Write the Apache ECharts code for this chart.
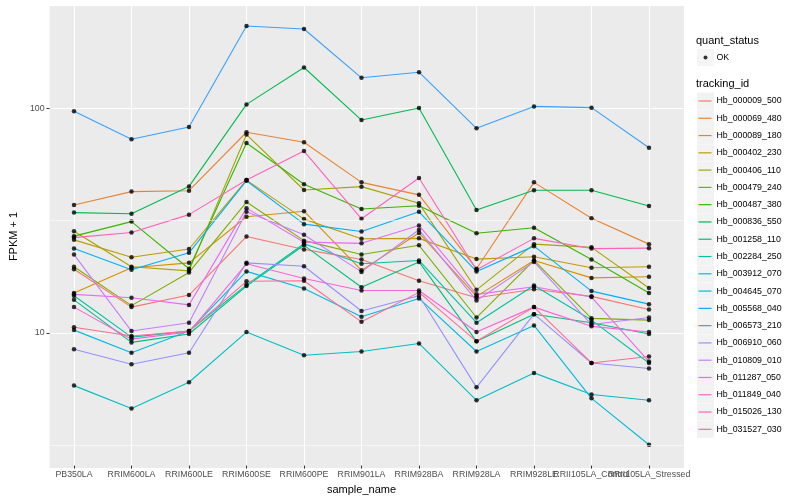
<!DOCTYPE html>
<html><head><meta charset="utf-8">
<script src="https://cdn.jsdelivr.net/npm/echarts@6/dist/echarts.min.js"></script>
<style>html,body{margin:0;padding:0;background:#fff}#c{width:800px;height:500px}</style>
</head><body><div id="c"></div>
<script>
const categories = ['PB350LA','RRIM600LA','RRIM600LE','RRIM600SE','RRIM600PE','RRIM901LA','RRIM928BA','RRIM928LA','RRIM928LE','RRII105LA_Control','RRII105LA_Stressed'];
const trackingIds = ['Hb_000009_500','Hb_000069_480','Hb_000089_180','Hb_000402_230','Hb_000406_110','Hb_000479_240','Hb_000487_380','Hb_000836_550','Hb_001258_110','Hb_002284_250','Hb_003912_070','Hb_004645_070','Hb_005568_040','Hb_006573_210','Hb_006910_060','Hb_010809_010','Hb_011287_050','Hb_011849_040','Hb_015026_130','Hb_031527_030'];
const colors = ['#F8766D','#EA8331','#D89000','#C09B00','#A3A500','#7CAE00','#39B600','#00BB4E','#00BF7D','#00C1A3','#00BFC4','#00BAE0','#00B0F6','#35A2FF','#9590FF','#C77CFF','#E76BF3','#FA62DB','#FF62BC','#FF6C91'];

// FPKM + 1 per sample (same order as categories)
const Hb_000009_500 = [18.9, 12.8, 14.5, 26.5, 23.2, 20.9, 16.8, 14.1, 15.4, 14.3, 12.5];
const Hb_000069_480 = [36.7, 42.1, 42.5, 77.6, 70.0, 46.3, 40.7, 19.0, 46.3, 32.0, 24.5];
const Hb_000089_180 = [14.8, 19.2, 20.2, 32.5, 34.4, 18.7, 27.5, 14.3, 20.7, 17.3, 17.5];
const Hb_000402_230 = [25.6, 21.4, 23.3, 47.4, 31.7, 25.9, 26.0, 21.0, 21.5, 19.2, 19.4];
const Hb_000406_110 = [28.0, 19.4, 18.6, 75.8, 42.8, 44.3, 37.3, 15.3, 24.5, 23.7, 15.6];
const Hb_000479_240 = [19.4, 13.0, 18.3, 37.8, 25.4, 22.0, 24.2, 11.5, 20.7, 11.4, 11.2];
const Hb_000487_380 = [26.6, 30.9, 19.0, 69.5, 45.4, 35.2, 36.4, 27.4, 29.0, 20.9, 14.8];
const Hb_000836_550 = [33.9, 33.5, 44.4, 103.4, 151.2, 88.0, 99.6, 34.8, 42.7, 42.7, 36.3];
const Hb_001258_110 = [13.8, 8.9, 9.7, 15.9, 24.2, 15.7, 20.4, 9.0, 11.9, 10.9, 9.7];
const Hb_002284_250 = [14.4, 9.4, 10.0, 16.1, 24.6, 20.0, 20.7, 10.9, 16.0, 11.2, 7.2];
const Hb_003912_070 = [5.7, 4.5, 5.9, 9.9, 7.8, 8.1, 8.8, 4.9, 6.5, 5.2, 4.9];
const Hb_004645_070 = [10.1, 8.0, 10.0, 18.5, 15.5, 11.6, 14.0, 8.1, 10.6, 5.0, 3.1];
const Hb_005568_040 = [23.4, 18.8, 22.4, 47.1, 30.1, 27.9, 34.2, 18.5, 24.0, 15.1, 13.2];
const Hb_006573_210 = [96.3, 72.2, 81.9, 231.9, 224.9, 136.0, 144.1, 80.8, 101.3, 100.0, 66.1];
const Hb_006910_060 = [8.3, 7.1, 8.0, 20.2, 19.5, 12.3, 14.4, 5.6, 11.9, 7.2, 6.8];
const Hb_010809_010 = [22.0, 10.0, 10.9, 34.2, 27.0, 18.4, 28.4, 13.7, 20.4, 10.7, 11.5];
const Hb_011287_050 = [14.6, 14.1, 13.1, 35.5, 25.0, 24.7, 29.7, 14.6, 15.8, 14.2, 7.3];
const Hb_011849_040 = [12.8, 9.2, 9.9, 20.0, 17.2, 15.2, 15.2, 9.9, 12.8, 10.5, 9.9];
const Hb_015026_130 = [26.2, 27.6, 33.2, 47.4, 63.9, 31.8, 48.4, 18.8, 26.0, 23.4, 23.5];
const Hb_031527_030 = [10.4, 9.5, 10.0, 16.7, 16.8, 11.0, 14.9, 9.0, 12.8, 7.2, 7.7];

const seriesValues = [Hb_000009_500, Hb_000069_480, Hb_000089_180, Hb_000402_230, Hb_000406_110, Hb_000479_240, Hb_000487_380, Hb_000836_550, Hb_001258_110, Hb_002284_250, Hb_003912_070, Hb_004645_070, Hb_005568_040, Hb_006573_210, Hb_006910_060, Hb_010809_010, Hb_011287_050, Hb_011849_040, Hb_015026_130, Hb_031527_030];

const yTicks = [10, 100];
const minorBreaks = [3.1623, 31.623];
const yMin = 2.5, yMax = 288;

const FONT = '"Liberation Sans", Arial, Helvetica, sans-serif';

const lineSeries = trackingIds.map((id, i) => ({
  name: id, type: 'line', xAxisIndex: 0, yAxisIndex: 0,
  data: seriesValues[i], showSymbol: false, symbol: 'none',
  itemStyle: { color: colors[i] },
  lineStyle: { width: 1.1, color: colors[i] },
  emphasis: { disabled: true }, silent: true, z: 2
}));

const pts = [];
seriesValues.forEach(vals => vals.forEach((v, j) => pts.push([categories[j], v])));
const pointSeries = {
  name: 'OK', type: 'scatter', xAxisIndex: 0, yAxisIndex: 0, data: pts,
  symbol: 'circle', symbolSize: 4.5, itemStyle: { color: '#000' },
  emphasis: { disabled: true }, silent: true, z: 3
};
const gridSeries = {
  type: 'scatter', xAxisIndex: 1, yAxisIndex: 1, data: [[0.5, 10]], symbolSize: 0,
  silent: true, z: 1,
  markLine: { silent: true, symbol: 'none', animation: false, label: { show: false },
    emphasis: { disabled: true },
    lineStyle: { color: '#ffffff', width: 0.55, type: 'solid' },
    data: minorBreaks.map(v => ({ yAxis: v })) }
};

const legendText = { color: '#000', fontSize: 8.8, fontFamily: FONT };
const boxLegend = (data, top) => ({
  data, orient: 'vertical', left: 697, top, padding: 0, itemWidth: 17, itemHeight: 17, itemGap: 0.28,
  icon: 'rect', itemStyle: { color: '#F2F2F2', borderWidth: 0 },
  textStyle: { color: 'rgba(0,0,0,0)', fontSize: 8.8, fontFamily: FONT }, selectedMode: false, z: 1
});
const keyLegend = (data, top, icon) => ({
  data, orient: 'vertical', left: 694.5, top, padding: 0, itemWidth: 17, itemHeight: 17, itemGap: 0.28,
  icon, itemStyle: { borderWidth: 0 }, textStyle: legendText, selectedMode: false, z: 2
});

const chart = echarts.init(document.getElementById('c'));
chart.setOption({
  animation: false,
  backgroundColor: '#ffffff',
  title: [
    { text: 'quant_status', left: 696, top: 35.5, padding: 0, textStyle: { fontSize: 11, fontWeight: 'normal', color: '#000', fontFamily: FONT, lineHeight: 11 } },
    { text: 'tracking_id', left: 696, top: 78.8, padding: 0, textStyle: { fontSize: 11, fontWeight: 'normal', color: '#000', fontFamily: FONT, lineHeight: 11 } }
  ],
  legend: [
    boxLegend(['OK'], 49),
    keyLegend(['OK'], 49, 'path://M0,0M17,17M13,8.5A2,2,0,1,1,9,8.5A2,2,0,1,1,13,8.5Z'),
    boxLegend(trackingIds, 92.5),
    keyLegend(trackingIds, 92.5, 'path://M0,0M17,17M4,7.9H17V9.1H4Z')
  ],
  grid: [
    { left: 74, right: 151, top: 5, bottom: 32, show: false },
    { left: 40, right: 116, top: 5, bottom: 32, show: true, backgroundColor: '#EBEBEB', borderWidth: 0 }
  ],
  xAxis: [
    { gridIndex: 0, type: 'category', data: categories, boundaryGap: false,
      axisLine: { show: false },
      axisTick: { show: true, length: 3, lineStyle: { color: '#333333', width: 1 } },
      axisLabel: { interval: 0, color: '#4D4D4D', fontSize: 8.8, margin: 4.5, fontFamily: FONT, hideOverlap: false },
      splitLine: { show: true, lineStyle: { color: '#ffffff', width: 1.1 } },
      name: 'sample_name', nameLocation: 'middle', nameGap: 15,
      nameTextStyle: { fontSize: 11, color: '#000', fontFamily: FONT } },
    { gridIndex: 1, type: 'value', min: 0, max: 1, show: false }
  ],
  yAxis: [
    { gridIndex: 0, type: 'log', logBase: 10, min: yMin, max: yMax, show: false },
    { gridIndex: 1, type: 'log', logBase: 10, min: yMin, max: yMax,
      axisLine: { show: false },
      axisTick: { show: true, length: 3, lineStyle: { color: '#333333' } },
      axisLabel: { color: '#4D4D4D', fontSize: 8.8, margin: 5, fontFamily: FONT, showMinLabel: false, showMaxLabel: false,
        formatter: v => (yTicks.some(t => Math.abs(t - v) < 1e-6 * t) ? String(Math.round(v)) : '') },
      splitLine: { show: true, lineStyle: { color: '#ffffff', width: 1.1 } },
      name: 'FPKM + 1', nameLocation: 'middle', nameGap: 22,
      nameTextStyle: { fontSize: 11, color: '#000', fontFamily: FONT } }
  ],
  series: [gridSeries, ...lineSeries, pointSeries]
});
</script>
</body></html>
